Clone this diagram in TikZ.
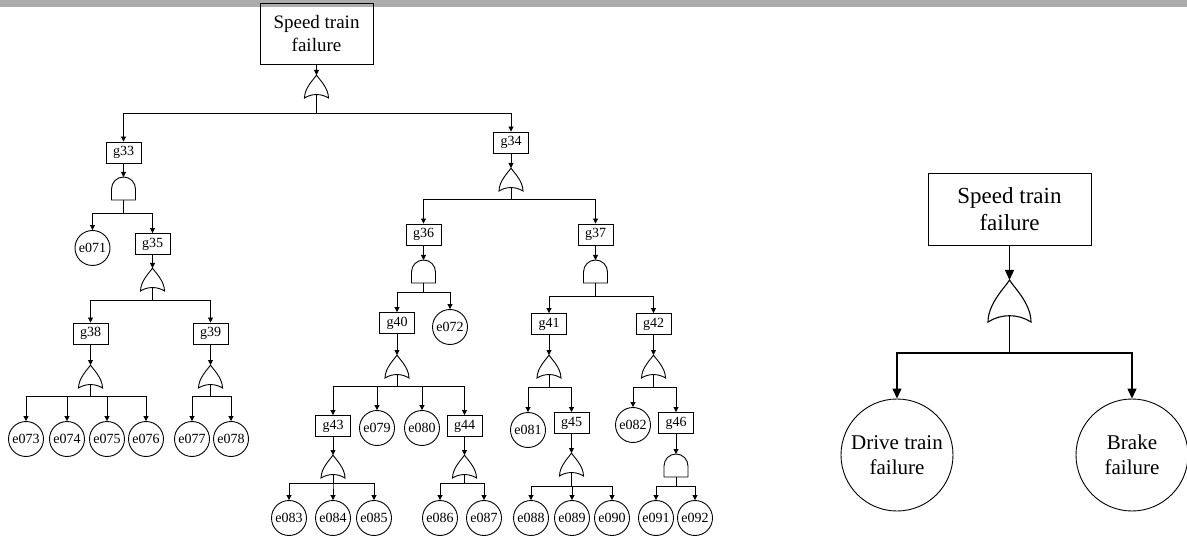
\documentclass[tikz,border=0pt]{standalone}
\usepackage{fontspec}
\setmainfont{Liberation Serif}
\usetikzlibrary{arrows.meta}
\definecolor{topbar}{RGB}{172,172,172}
\tikzset{
  gbox/.style={draw, minimum width=35pt, minimum height=21pt, inner sep=0pt, font=\fontsize{14}{16}\selectfont},
  evt/.style={draw, circle, minimum size=35pt, inner sep=0pt, font=\fontsize{14}{16}\selectfont},
  arr/.style={-{Triangle[length=5pt,width=5pt]}},
  bigarr/.style={line width=1.3pt,-{Triangle[length=10pt,width=9pt]}},
  pics/orgate/.style n args={2}{code={
    \draw (0,0) .. controls ({0.08*#1},{0.15*#2}) and ({0.5*#1},{0.55*#2}) .. ({0.5*#1},#2)
       .. controls ({0.2*#1},{0.8*#2}) and ({-0.2*#1},{0.8*#2}) .. ({-0.5*#1},#2)
       .. controls ({-0.5*#1},{0.55*#2}) and ({-0.08*#1},{0.15*#2}) .. cycle;
    \coordinate (-t) at (0,0);
    \coordinate (-b) at (0,{0.85*#2});
  }},
  pics/andgate/.style n args={2}{code={
    \draw ({-0.5*#1},#2) -- ({-0.5*#1},{0.5*#1}) .. controls ({-0.5*#1},{0.224*#1}) and ({-0.276*#1},0) .. (0,0)
       .. controls ({0.276*#1},0) and ({0.5*#1},{0.224*#1}) .. ({0.5*#1},{0.5*#1}) -- ({0.5*#1},#2) -- cycle;
    \coordinate (-t) at (0,0);
    \coordinate (-b) at (0,#2);
  }}
}
\begin{document}
\begin{tikzpicture}[x=1pt,y=-1pt,line width=0.9pt]
\useasboundingbox (0,0) rectangle (1187,540);
\fill[topbar] (0,0) rectangle (1187,7.5);

% ---------- left tree ----------
\node[draw, minimum width=113pt, minimum height=61pt, inner sep=0pt, align=center,
      font=\fontsize{19}{23}\selectfont] (T) at (316.5,33.5) {Speed train\\failure};
\pic (o0) at (316.5,75) {orgate={24}{23}};

\node[gbox] (g33) at (123.5,152.5) {g33};
\node[gbox] (g34) at (511,142.5) {g34};
\pic (a33) at (123.5,177) {andgate={24}{23}};
\node[evt] (e071) at (92.5,248) {e071};
\node[gbox] (g35) at (152.5,244) {g35};
\pic (o35) at (152.5,268) {orgate={24}{23}};
\node[gbox] (g38) at (90.5,333.5) {g38};
\node[gbox] (g39) at (210.5,333.5) {g39};
\pic (o38) at (90.5,365) {orgate={24}{23}};
\pic (o39) at (210.5,365) {orgate={24}{23}};
\node[evt] (e073) at (26,439) {e073};
\node[evt] (e074) at (67,439) {e074};
\node[evt] (e075) at (107,439) {e075};
\node[evt] (e076) at (146,439) {e076};
\node[evt] (e077) at (192,439) {e077};
\node[evt] (e078) at (231,439) {e078};

\pic (o34) at (511,168) {orgate={24}{23}};
\node[gbox] (g36) at (423.5,234.5) {g36};
\node[gbox] (g37) at (595.5,234.5) {g37};
\pic (a36) at (423.5,260) {andgate={24}{23}};
\pic (a37) at (595.5,260) {andgate={24}{23}};
\node[gbox] (g40) at (397,323) {g40};
\node[evt] (e072) at (450,327) {e072};
\node[gbox] (g41) at (549,324) {g41};
\node[gbox] (g42) at (653.5,324) {g42};
\pic (o40) at (397,355) {orgate={24}{23}};
\pic (o41) at (549,355) {orgate={24}{23}};
\pic (o42) at (653.5,355) {orgate={24}{23}};
\node[gbox] (g43) at (333,426) {g43};
\node[evt] (e079) at (377,428) {e079};
\node[evt] (e080) at (422,428) {e080};
\node[gbox] (g44) at (464.5,426) {g44};
\node[evt] (e081) at (528,430) {e081};
\node[gbox] (g45) at (571.5,423) {g45};
\node[evt] (e082) at (633,425) {e082};
\node[gbox] (g46) at (676,423) {g46};
\pic (o43) at (333,455) {orgate={24}{23}};
\pic (o44) at (464.5,455) {orgate={24}{23}};
\pic (o45) at (571.5,453) {orgate={24}{23}};
\pic (a46) at (676,454) {andgate={24}{23}};
\node[evt] (e083) at (289,518) {e083};
\node[evt] (e084) at (333,518) {e084};
\node[evt] (e085) at (374,518) {e085};
\node[evt] (e086) at (440,518) {e086};
\node[evt] (e087) at (484,518) {e087};
\node[evt] (e088) at (531,518) {e088};
\node[evt] (e089) at (572,518) {e089};
\node[evt] (e090) at (612,518) {e090};
\node[evt] (e091) at (656,518) {e091};
\node[evt] (e092) at (695,518) {e092};

% connectors
\draw[arr] (T) -- (o0-t);
\foreach \c in {g33,g34} \draw[arr] (o0-b) -- ++(0,18.5) -| (\c);
\draw[arr] (g33) -- (a33-t);
\foreach \c in {e071,g35} \draw[arr] (a33-b) -- ++(0,13) -| (\c);
\draw[arr] (g35) -- (o35-t);
\foreach \c in {g38,g39} \draw[arr] (o35-b) -- ++(0,12.5) -| (\c);
\draw[arr] (g38) -- (o38-t);
\foreach \c in {e073,e074,e075,e076} \draw[arr] (o38-b) -- ++(0,11.5) -| (\c);
\draw[arr] (g39) -- (o39-t);
\foreach \c in {e077,e078} \draw[arr] (o39-b) -- ++(0,11.5) -| (\c);

\draw[arr] (g34) -- (o34-t);
\foreach \c in {g36,g37} \draw[arr] (o34-b) -- ++(0,11.5) -| (\c);
\draw[arr] (g36) -- (a36-t);
\foreach \c in {g40,e072} \draw[arr] (a36-b) -- ++(0,9) -| (\c);
\draw[arr] (g37) -- (a37-t);
\foreach \c in {g41,g42} \draw[arr] (a37-b) -- ++(0,13) -| (\c);
\draw[arr] (g40) -- (o40-t);
\foreach \c in {g43,e079,e080,g44} \draw[arr] (o40-b) -- ++(0,11.5) -| (\c);
\draw[arr] (g43) -- (o43-t);
\foreach \c in {e083,e084,e085} \draw[arr] (o43-b) -- ++(0,8.5) -| (\c);
\draw[arr] (g44) -- (o44-t);
\foreach \c in {e086,e087} \draw[arr] (o44-b) -- ++(0,8.5) -| (\c);
\draw[arr] (g41) -- (o41-t);
\foreach \c in {e081,g45} \draw[arr] (o41-b) -- ++(0,12.5) -| (\c);
\draw[arr] (g42) -- (o42-t);
\foreach \c in {e082,g46} \draw[arr] (o42-b) -- ++(0,12.5) -| (\c);
\draw[arr] (g45) -- (o45-t);
\foreach \c in {e088,e089,e090} \draw[arr] (o45-b) -- ++(0,13.5) -| (\c);
\draw[arr] (g46) -- (a46-t);
\foreach \c in {e091,e092} \draw[arr] (a46-b) -- ++(0,9) -| (\c);

% ---------- right tree ----------
\node[draw, line width=0.9pt, minimum width=163pt, minimum height=72pt, inner sep=0pt, align=center,
      font=\fontsize{23}{27}\selectfont] (R) at (1009.5,209) {Speed train\\failure};
\pic[line width=1.1pt] (o1) at (1009.5,280) {orgate={43}{42}};
\node[draw, circle, line width=0.9pt, minimum size=112pt, inner sep=0pt, align=center,
      font=\fontsize{21}{25}\selectfont] (D) at (897,455) {Drive train\\failure};
\node[draw, circle, line width=0.9pt, minimum size=112pt, inner sep=0pt, align=center,
      font=\fontsize{21}{25}\selectfont] (B) at (1132,455) {Brake\\failure};
\draw[bigarr] (R) -- (o1-t);
\foreach \c in {D,B} \draw[bigarr] (o1-b) -- ++(0,37.3) -| (\c);
\end{tikzpicture}
\end{document}
